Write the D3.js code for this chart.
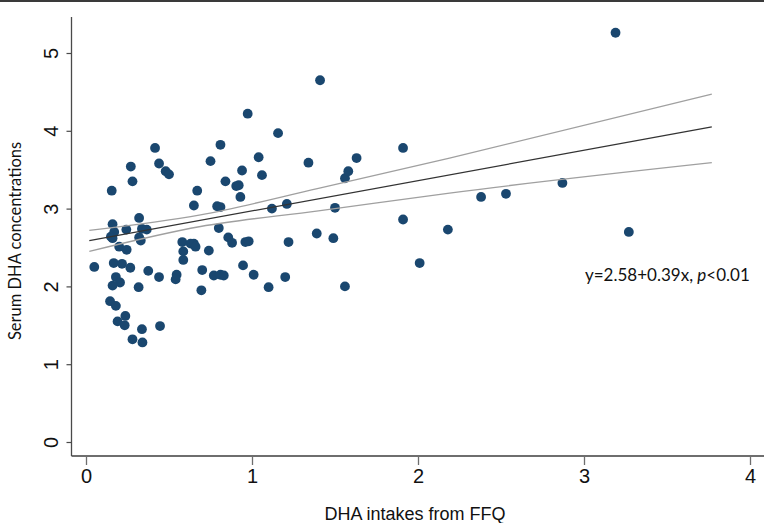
<!DOCTYPE html>
<html>
<head>
<meta charset="utf-8">
<script src="https://cdn.jsdelivr.net/npm/d3@7"></script>
<style>
  body { margin: 0; background: #fff; }
  svg { display: block; }
</style>
</head>
<body>
<div id="chart"></div>
<script>
// DHA intake (FFQ) per subject
const intakeValues = [
    0.05, 0.155, 0.16, 0.17, 0.15, 0.16, 0.243, 0.20, 0.245, 0.167,
    0.217, 0.267, 0.18, 0.205, 0.16, 0.145, 0.18, 0.237, 0.19, 0.233,
    0.337, 0.446, 0.28, 0.34, 0.317, 0.375, 0.44, 0.546, 0.54, 0.586,
    0.586, 0.70, 0.695, 0.77, 0.81, 0.83, 0.946, 1.01, 1.20, 1.10,
    1.56, 0.74, 0.58, 0.63, 0.65, 0.66, 0.32, 0.33, 0.337, 0.366,
    0.32, 0.28, 0.27, 0.416, 0.44, 0.48, 0.50, 0.67, 0.65, 0.75,
    0.81, 0.974, 1.157, 1.41, 1.04, 0.94, 0.84, 0.905, 0.92, 0.93,
    0.79, 0.81, 0.80, 0.857, 0.88, 0.96, 0.98, 1.06, 1.12, 1.21,
    1.22, 1.34, 1.39, 1.49, 1.50, 1.56, 1.58, 1.63, 1.91, 1.91,
    2.01, 2.18, 2.38, 2.53, 2.87, 3.19, 3.27
];
// serum DHA for the same subjects
const serumValues = [
    2.25, 3.23, 2.80, 2.70, 2.64, 2.62, 2.73, 2.51, 2.47, 2.30,
    2.29, 2.24, 2.12, 2.05, 2.01, 1.81, 1.75, 1.62, 1.55, 1.50,
    1.45, 1.49, 1.32, 1.28, 1.99, 2.20, 2.12, 2.15, 2.09, 2.45,
    2.34, 2.21, 1.95, 2.14, 2.15, 2.14, 2.27, 2.15, 2.12, 1.99,
    2.00, 2.46, 2.57, 2.55, 2.55, 2.51, 2.63, 2.59, 2.74, 2.73,
    2.88, 3.35, 3.54, 3.78, 3.58, 3.48, 3.44, 3.23, 3.04, 3.61,
    3.82, 4.22, 3.97, 4.65, 3.66, 3.49, 3.35, 3.29, 3.30, 3.15,
    3.03, 3.02, 2.75, 2.63, 2.56, 2.57, 2.58, 3.43, 3.00, 3.06,
    2.57, 3.59, 2.68, 2.62, 3.01, 3.39, 3.48, 3.65, 3.78, 2.86,
    2.30, 2.73, 3.15, 3.19, 3.33, 5.26, 2.70
];

// fitted line y = a + b x and its confidence band
const fitIntercept = 2.58;
const fitSlope = 0.39;
const fitRange = [0.02, 3.77];
const ciX = [0.02, 0.69, 1.4, 2.19, 3.77];
const ciUpper = [2.72, 2.92, 3.26, 3.65, 4.47];
const ciLower = [2.45, 2.77, 2.97, 3.20, 3.59];

const xTicks = [0, 1, 2, 3, 4];
const yTicks = [0, 1, 2, 3, 4, 5];
const xTitle = "DHA intakes from FFQ";
const yTitle = "Serum DHA concentrations";

const width = 764, height = 523;

const svg = d3.select("#chart")
    .append("svg")
    .attr("width", width)
    .attr("height", height);

// top frame line
svg.append("line")
    .attr("x1", 0).attr("x2", width)
    .attr("y1", 1).attr("y2", 1)
    .attr("stroke", "#3a3a3a")
    .attr("stroke-width", 2);

const xScale = d3.scaleLinear().domain([0, 4]).range([86, 750]);
const yScale = d3.scaleLinear().domain([0, 5]).range([442, 53]);

const axisX = 71.5, axisY = 456;

// x axis
const xAxis = svg.append("g")
    .attr("transform", `translate(0,${axisY})`)
    .call(d3.axisBottom(xScale).tickValues(xTicks).tickFormat(d3.format("d")).tickSize(9).tickPadding(4));
xAxis.select(".domain").remove();
xAxis.append("line")
    .attr("x1", axisX).attr("x2", width)
    .attr("stroke", "#6e6e6e")
    .attr("stroke-width", 2);
xAxis.selectAll(".tick line").attr("stroke", "#6e6e6e").attr("stroke-width", 1.3);
xAxis.selectAll(".tick text")
    .attr("fill", "#111")
    .style("font-family", "'Liberation Sans', Arial, sans-serif")
    .style("font-size", "20px");

// y axis
const yAxis = svg.append("g")
    .attr("transform", `translate(${axisX},0)`)
    .call(d3.axisLeft(yScale).tickValues(yTicks).tickFormat(d3.format("d")).tickSize(5).tickPadding(0));
yAxis.select(".domain").remove();
yAxis.append("line")
    .attr("y1", 17).attr("y2", axisY)
    .attr("stroke", "#4a4a4a")
    .attr("stroke-width", 1.3);
yAxis.selectAll(".tick line").attr("stroke", "#4a4a4a").attr("stroke-width", 1.2);
yAxis.selectAll(".tick text")
    .attr("x", 0).attr("dy", null)
    .attr("transform", "translate(-21,0) rotate(-90)")
    .attr("text-anchor", "middle")
    .attr("dominant-baseline", "central")
    .attr("fill", "#111")
    .style("font-family", "'Liberation Sans', Arial, sans-serif")
    .style("font-size", "20px");

// axis titles
svg.append("text")
    .attr("x", 415)
    .attr("y", 520)
    .attr("text-anchor", "middle")
    .attr("fill", "#111")
    .style("font-family", "'Liberation Sans', Arial, sans-serif")
    .style("font-size", "18px")
    .text(xTitle);

svg.append("text")
    .attr("transform", `translate(21,241) rotate(-90)`)
    .attr("text-anchor", "middle")
    .attr("fill", "#111")
    .style("font-family", "Lato, 'Open Sans', sans-serif")
    .style("font-size", "16.5px")
    .text(yTitle);

// scatter points
svg.append("g")
    .selectAll("circle")
    .data(d3.zip(intakeValues, serumValues))
    .join("circle")
    .attr("cx", d => xScale(d[0]))
    .attr("cy", d => yScale(d[1]))
    .attr("r", 4.9)
    .attr("fill", "#1a476f");

// confidence band lines
const ciLine = d3.line()
    .x(d => xScale(d[0]))
    .y(d => yScale(d[1]))
    .curve(d3.curveMonotoneX);

[ciUpper, ciLower].forEach(vals => {
    svg.append("path")
        .attr("d", ciLine(d3.zip(ciX, vals)))
        .attr("fill", "none")
        .attr("stroke", "#a0a0a0")
        .attr("stroke-width", 1.3);
});

// fitted line
svg.append("path")
    .attr("d", d3.line()
        .x(d => xScale(d))
        .y(d => yScale(fitIntercept + fitSlope * d))(fitRange))
    .attr("fill", "none")
    .attr("stroke", "#333")
    .attr("stroke-width", 1.2);

// equation label
const eq = svg.append("text")
    .attr("x", 585)
    .attr("y", 281)
    .attr("fill", "#111")
    .style("font-family", "Lato, 'Open Sans', sans-serif")
    .style("font-size", "17px");
eq.append("tspan").text(`y=${fitIntercept}+${fitSlope}x, `);
eq.append("tspan").style("font-style", "italic").text("p");
eq.append("tspan").text("<0.01");
</script>
</body>
</html>
